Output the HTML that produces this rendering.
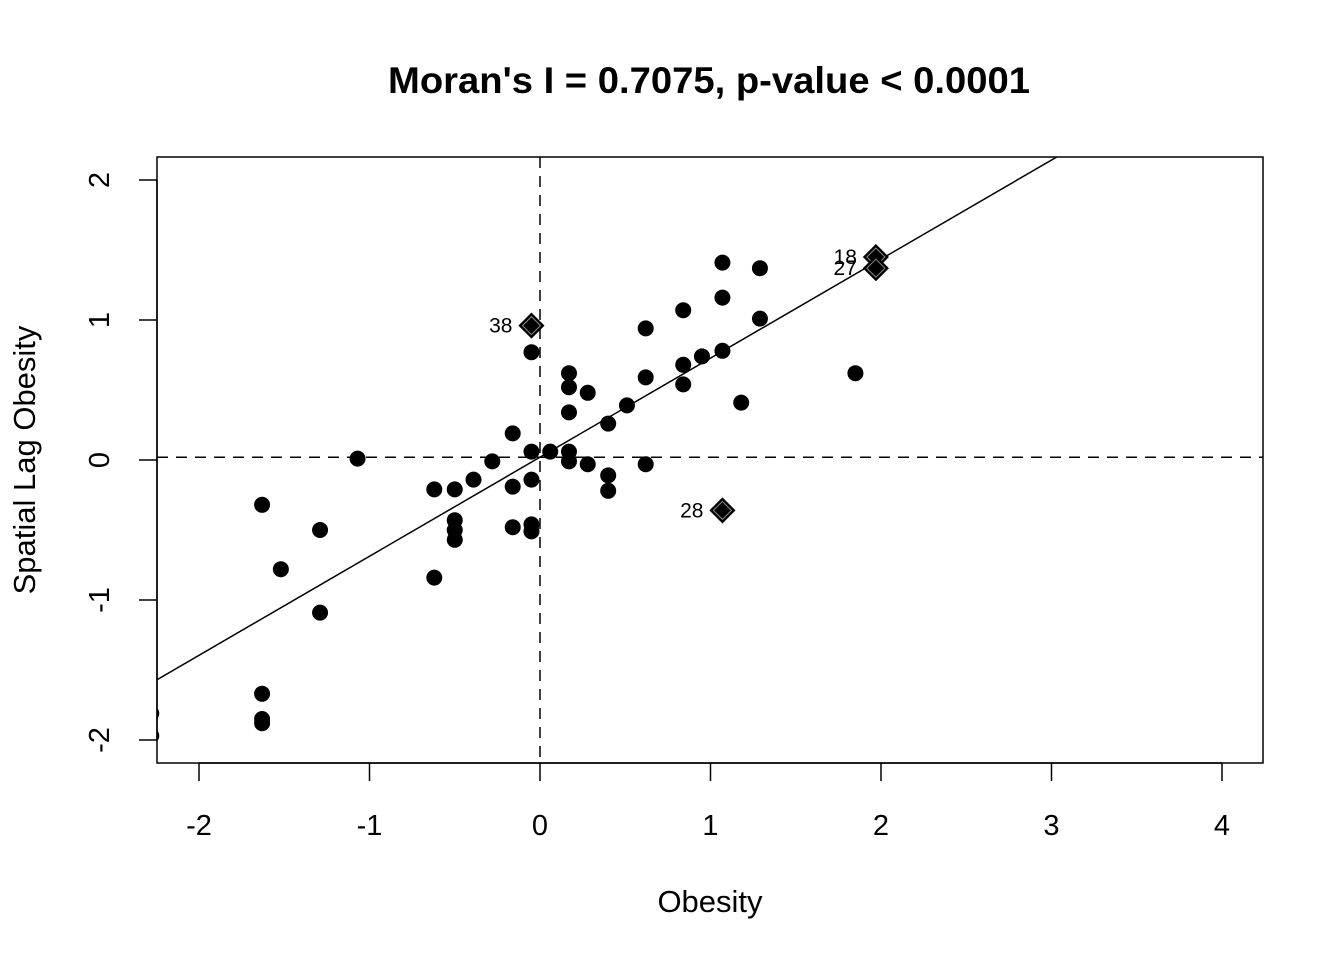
<!DOCTYPE html>
<html><head><meta charset="utf-8"><style>
html,body{margin:0;padding:0;background:#fff;}
svg{display:block;font-family:"Liberation Sans",Arial,sans-serif;}
</style></head><body>
<svg id="chart" width="1344" height="960" viewBox="0 0 1344 960">
<defs><clipPath id="plotclip"><rect x="157" y="157" width="1106" height="606"/></clipPath></defs>
<text x="709" y="93" text-anchor="middle" font-size="37" font-weight="bold" textLength="642" lengthAdjust="spacingAndGlyphs">Moran's I = 0.7075, p-value &lt; 0.0001</text>
<text x="710" y="912" text-anchor="middle" font-size="31">Obesity</text>
<text transform="translate(35,460) rotate(-90)" text-anchor="middle" font-size="31">Spatial Lag Obesity</text>
<rect x="157" y="157" width="1106" height="606" fill="none" stroke="#000" stroke-width="1.5"/>
<g id="axes"></g>
<g id="marks" clip-path="url(#plotclip)"></g>
<g id="labels"></g>
</svg>
<script>
const xTicks = [-2, -1, 0, 1, 2, 3, 4];
const yTicks = [-2, -1, 0, 1, 2];
const obesity = [-1.63,-1.29,-1.52,-1.07,-1.29,-1.63,-1.63,-1.63,-0.62,-0.50,-0.39,-0.28,-0.16,-0.16,-0.50,-0.50,-0.50,-0.62,-0.16,-0.05,-0.05,-0.05,-0.05,0.06,0.17,0.17,0.28,0.17,0.17,0.17,0.28,0.40,0.40,0.40,0.51,0.62,0.62,0.62,0.84,0.84,0.84,0.95,1.07,1.07,1.07,1.18,1.29,1.29,1.85,-0.05,-2.28,-2.28];
const lagObesity = [-0.32,-0.50,-0.78,0.01,-1.09,-1.67,-1.85,-1.88,-0.21,-0.21,-0.14,-0.01,0.19,-0.19,-0.43,-0.50,-0.57,-0.84,-0.48,0.06,-0.14,-0.46,-0.51,0.06,0.62,0.52,0.48,0.34,0.06,-0.01,-0.03,0.26,-0.11,-0.22,0.39,0.94,0.59,-0.03,1.07,0.68,0.54,0.74,1.41,1.16,0.78,0.41,1.37,1.01,0.62,0.77,-1.81,-1.97];
const influentialX = [-0.05, 1.07, 1.97, 1.97];
const influentialY = [0.96, -0.36, 1.45, 1.37];
const influentialIds = ["38", "28", "18", "27"];
const slope = 0.7075;
const meanX = 0.0;
const meanY = 0.02;

const X = v => 540 + (v) * 170.5;
const Y = v => 460 - (v) * 140;
const NS = "http://www.w3.org/2000/svg";
function mk(tag, attrs, parent){const e=document.createElementNS(NS,tag);for(const k in attrs)e.setAttribute(k,attrs[k]);parent.appendChild(e);return e;}
const axes=document.getElementById('axes'), marks=document.getElementById('marks'), labels=document.getElementById('labels');

mk('line',{x1:X(xTicks[0]),x2:X(xTicks[xTicks.length-1]),y1:763,y2:763,stroke:'#000','stroke-width':1.5},axes);
xTicks.forEach(t=>{
  const l=mk('line',{x1:X(t),x2:X(t),y1:763,y2:781,stroke:'#000','stroke-width':1.5},axes);
  
  
  const tx=mk('text',{x:X(t),y:835,'text-anchor':'middle','font-size':29},axes);
  tx.textContent=t<0?'-'+Math.abs(t):String(t);
  
  
});
mk('line',{x1:157,x2:157,y1:Y(yTicks[0]),y2:Y(yTicks[yTicks.length-1]),stroke:'#000','stroke-width':1.5},axes);
yTicks.forEach(t=>{
  const l=mk('line',{x1:139,x2:157,y1:Y(t),y2:Y(t),stroke:'#000','stroke-width':1.5},axes);
  
  
  const tx=mk('text',{transform:`translate(109,${Y(t)}) rotate(-90)`,'text-anchor':'middle','font-size':29},axes);
  tx.textContent=t<0?'-'+Math.abs(t):String(t);
  
  
});

const vl=mk('line',{x1:X(meanX),x2:X(meanX),y1:157,y2:763,stroke:'#000','stroke-width':1.5,'stroke-dasharray':'11,8'},marks);


const hl=mk('line',{x1:157,x2:1263,y1:Y(meanY),y2:Y(meanY),stroke:'#000','stroke-width':1.5,'stroke-dasharray':'11,8'},marks);


const x0=-3, x1=5;
const rl=mk('line',{x1:X(x0),y1:Y(meanY+slope*(x0-meanX)),x2:X(x1),y2:Y(meanY+slope*(x1-meanX)),stroke:'#000','stroke-width':1.5},marks);



obesity.forEach((v,i)=>{
  const c=mk('circle',{cx:X(v),cy:Y(lagObesity[i]),r:8,fill:'#000'},marks);
  
  
});
influentialX.forEach((v,i)=>{
  const cx=X(v), cy=Y(influentialY[i]), d=12;
  const p=mk('polygon',{points:`${cx},${cy-d} ${cx+d},${cy} ${cx},${cy+d} ${cx-d},${cy}`,fill:'#000',stroke:'#000','stroke-width':1.5},labels);
  
  
  const p2=mk('polygon',{points:`${cx},${cy-d+3} ${cx+d-3},${cy} ${cx},${cy+d-3} ${cx-d+3},${cy}`,fill:'none',stroke:'#888','stroke-width':1},labels);
  
  
  const t=mk('text',{x:cx-19,y:cy+7,'text-anchor':'end','font-size':21},labels);
  t.textContent=influentialIds[i];
  
  
});
</script>
</body></html>
